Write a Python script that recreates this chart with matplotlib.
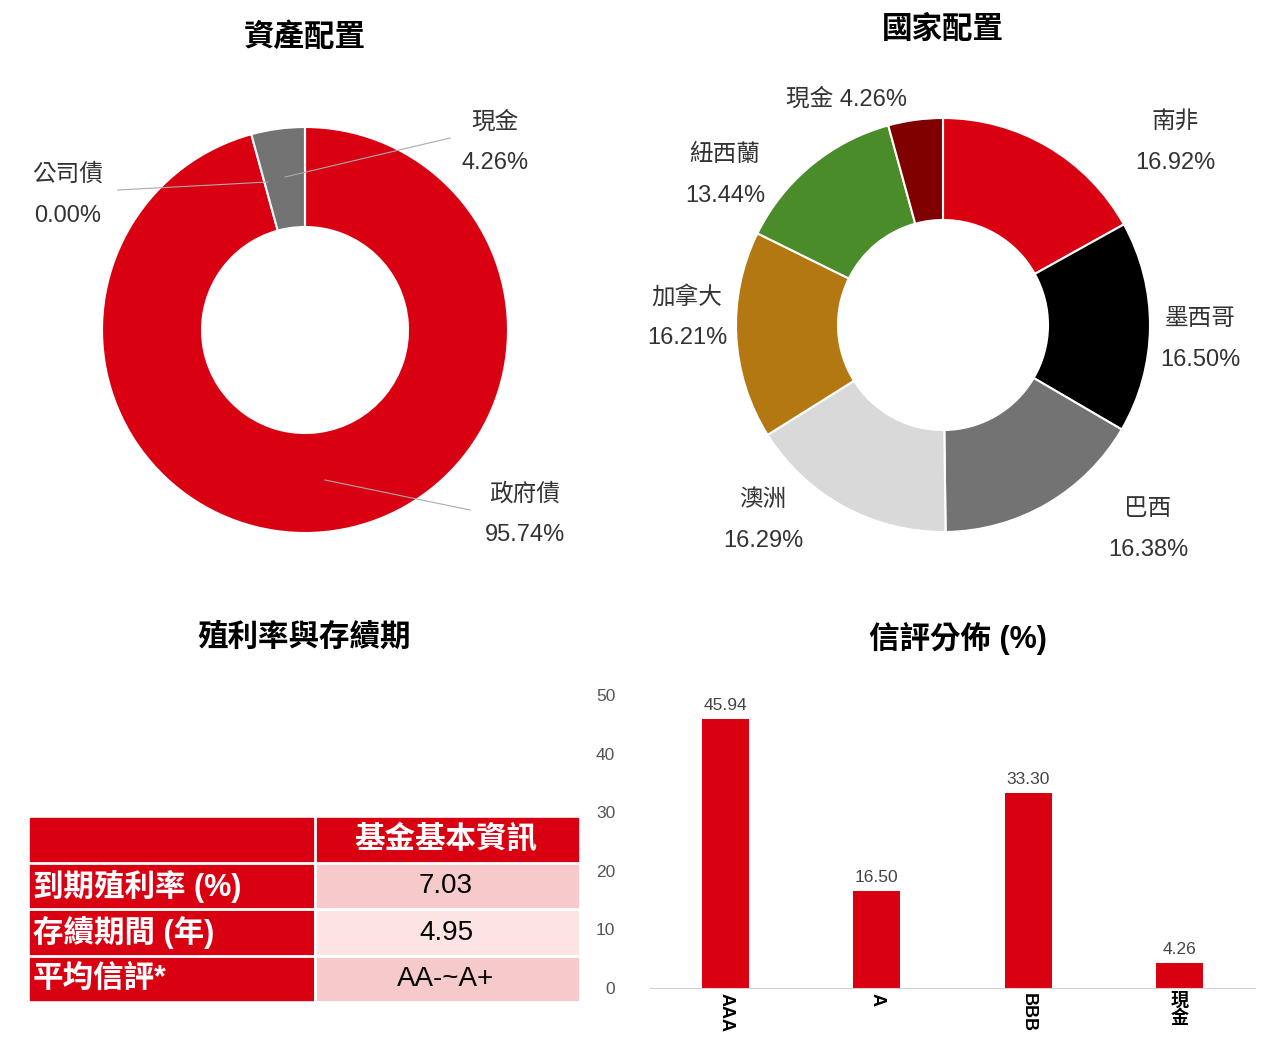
import matplotlib
matplotlib.use("Agg")
import matplotlib.pyplot as plt
from matplotlib.patches import Rectangle
import numpy as np

plt.rcParams['font.family'] = ['Liberation Sans', 'Noto Sans CJK TC']

asset_labels = ['政府債', '現金', '公司債']
asset_values = [95.74, 4.26, 0.00]
asset_colors = ['#d90012', '#737373', '#999999']

country_labels = ['南非', '墨西哥', '巴西', '澳洲', '加拿大', '紐西蘭', '現金']
country_values = [16.92, 16.50, 16.38, 16.29, 16.21, 13.44, 4.26]
country_colors = ['#d90012', '#000000', '#737373', '#d9d9d9', '#b47812', '#4a8c2a', '#800000']

rating_labels = ['AAA', 'A', 'BBB', '現金']
rating_values = [45.94, 16.50, 33.30, 4.26]

table_header = '基金基本資訊'
table_rows = ['到期殖利率 (%)', '存續期間 (年)', '平均信評*']
table_vals = ['7.03', '4.95', 'AA-~A+']

W, H = 1280, 1051
fig = plt.figure(figsize=(12.8, 10.51), dpi=100)

def fx(x): return x / W
def fy(y): return 1 - y / H

# Asset donut
r = 203
ax1 = fig.add_axes([fx(305 - r), fy(330 + r), 2 * r / W, 2 * r / H])
ax1.pie(asset_values, colors=asset_colors, startangle=90, counterclock=False,
        wedgeprops=dict(width=100 / r, edgecolor='white', linewidth=1.5))
ax1.set_xlim(-1, 1); ax1.set_ylim(-1, 1)
ax1.set_aspect('equal')
fig.text(fx(305), fy(38), '資產配置', ha='center', va='center', fontsize=22, fontweight='bold')
lab_kw = dict(fontsize=17, color='#333333', va='center')
fig.text(fx(495), fy(122), asset_labels[1], ha='center', **lab_kw)
fig.text(fx(495), fy(163), f'{asset_values[1]:.2f}%', ha='center', **lab_kw)
fig.text(fx(68), fy(175), asset_labels[2], ha='center', **lab_kw)
fig.text(fx(68), fy(216), f'{asset_values[2]:.2f}%', ha='center', **lab_kw)
fig.text(fx(525), fy(494), asset_labels[0], ha='center', **lab_kw)
fig.text(fx(525), fy(535), f'{asset_values[0]:.2f}%', ha='center', **lab_kw)
for (x1, y1, x2, y2) in [(450, 138, 285, 177), (118, 190, 268, 182), (325, 480, 470, 510)]:
    fig.add_artist(plt.Line2D([fx(x1), fx(x2)], [fy(y1), fy(y2)], color='#aaaaaa', lw=0.8))

# Country donut
r2 = 207
ax2 = fig.add_axes([fx(943 - r2), fy(325 + r2), 2 * r2 / W, 2 * r2 / H])
ax2.pie(country_values, colors=country_colors, startangle=90, counterclock=False,
        wedgeprops=dict(width=102 / r2, edgecolor='white', linewidth=1.5))
ax2.set_xlim(-1, 1); ax2.set_ylim(-1, 1)
ax2.set_aspect('equal')
fig.text(fx(943), fy(30), '國家配置', ha='center', va='center', fontsize=22, fontweight='bold')
cpos = [(1175, 122, 163), (1200, 319, 360), (1148, 509, 550), (763, 500, 541),
        (687, 297, 338), (725, 155, 196)]
for i, (x, y1, y2) in enumerate(cpos):
    fig.text(fx(x), fy(y1), country_labels[i], ha='center', **lab_kw)
    fig.text(fx(x), fy(y2), f'{country_values[i]:.2f}%', ha='center', **lab_kw)
fig.text(fx(846), fy(99), f'{country_labels[6]} {country_values[6]:.2f}%', ha='center', **lab_kw)

# Table
fig.text(fx(304), fy(638), '殖利率與存續期', ha='center', va='center', fontsize=22, fontweight='bold')
ax3 = fig.add_axes([0, 0, 1, 1], zorder=-1)
ax3.set_xlim(0, W); ax3.set_ylim(H, 0); ax3.axis('off')
red = '#d90012'
rows_y = [(818, 862), (864, 908), (910, 955), (957, 1000)]
pinks = ['#f6caca', '#fce4e4', '#f6caca']
ax3.add_patch(Rectangle((30, 818), 548, 44, color=red))
ax3.text(446, 840, table_header, ha='center', va='center', fontsize=22, color='white', fontweight='bold')
for i in range(3):
    y0, y1 = rows_y[i + 1]
    ax3.add_patch(Rectangle((30, y0), 283, y1 - y0, color=red))
    ax3.add_patch(Rectangle((316, y0), 262, y1 - y0, color=pinks[i]))
    ax3.text(33, (y0 + y1) / 2, table_rows[i], ha='left', va='center', fontsize=22, color='white', fontweight='bold')
    ax3.text(446, (y0 + y1) / 2, table_vals[i], ha='center', va='center', fontsize=20, color='black')
for y in [863, 909, 956]:
    ax3.plot([30, 578], [y, y], color='white', lw=2)
ax3.plot([314.5, 314.5], [818, 1000], color='white', lw=2)

# Bar chart
fig.text(fx(958), fy(638), '信評分佈 (%)', ha='center', va='center', fontsize=22, fontweight='bold')
ax4 = fig.add_axes([fx(650), fy(988), (1255 - 650) / W, (988 - 695) / H])
x = np.arange(len(rating_values))
ax4.bar(x, rating_values, width=0.31, color=red)
ax4.set_xlim(-0.5, 3.5)
ax4.set_ylim(0, 50)
ax4.set_yticks(range(0, 51, 10))
for v, xi in zip(rating_values, x):
    ax4.text(xi, v + 1, f'{v:.2f}', ha='center', va='bottom', fontsize=12.5, color='#444444')
for s in ['top', 'right', 'left']:
    ax4.spines[s].set_visible(False)
ax4.spines['bottom'].set_color('#d0d0d0')
ax4.tick_params(axis='y', length=0, labelsize=12.5, labelcolor='#555555', pad=25)
ax4.tick_params(axis='x', length=0)
ax4.set_xticks(x)
labs = [l if l.isascii() else '\n'.join(l) for l in rating_labels]
ax4.set_xticklabels(labs, fontsize=13, fontweight='bold', va='top')
for t, l in zip(ax4.get_xticklabels(), rating_labels):
    t.set_rotation(-90 if l.isascii() else 0)
    t.set_linespacing(0.95)

fig.savefig('out.png', dpi=100, facecolor='white')
